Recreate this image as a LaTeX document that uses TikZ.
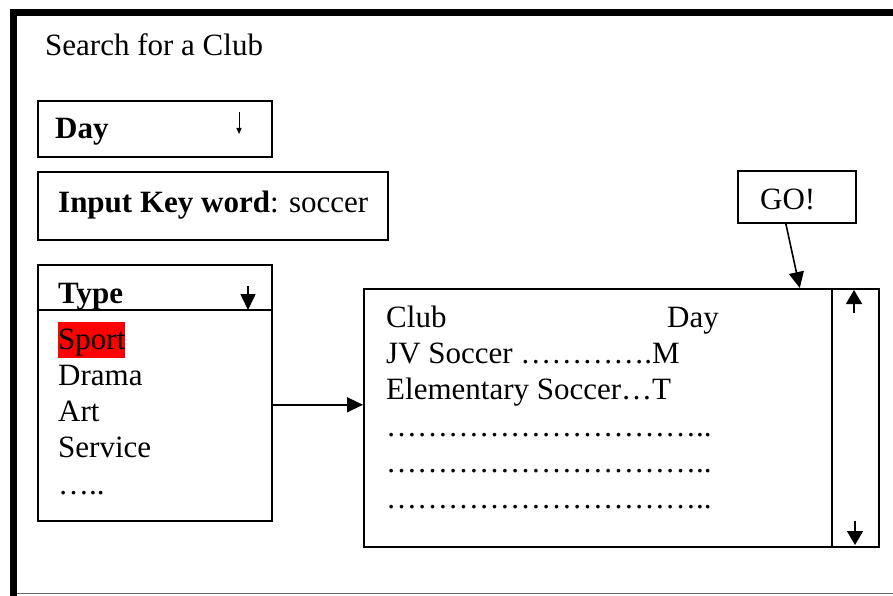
\documentclass[tikz,border=0pt]{standalone}
\usepackage{fontspec}
\setmainfont{Liberation Serif}
\usetikzlibrary{arrows.meta}
\newcommand{\ellch}{…}
\newcommand{\leaderrow}{\ellch\ellch\ellch\ellch\ellch\ellch\ellch\ellch\ellch\ellch..}

\begin{document}
\begin{tikzpicture}[x=1pt,y=-1pt,
  box/.style={draw, line width=1.6pt, inner sep=0pt, anchor=north west},
  txt/.style={anchor=base west, inner sep=0pt, font=\fontsize{31}{36}\selectfont},
  arr/.style={line width=1.6pt, -{Triangle[length=16pt,width=15pt]}},
  scrollarr/.style={line width=1.6pt, -{Triangle[length=14pt,width=16pt]}},
  thinarr/.style={line width=1pt, -{Triangle[length=6pt,width=5pt]}}]
\useasboundingbox (0,0) rectangle (893,596);

% page frame
\fill (10,9) rectangle (17,596);
\fill (10,9) rectangle (893,16);
\draw[black!60, line width=1.5pt] (17,593.5) -- (893,593.5);

% title
\node[txt] (title) at (45,56) {Search for a Club};

% day selector
\node[box, minimum width=234pt, minimum height=56pt] (daybox) at (37,100) {};
\node[txt] (daylbl) at (55,139) {\bfseries Day};
\coordinate (dayA) at (239,112);
\coordinate (dayB) at (239,134);
\draw[thinarr] (dayA) -- (dayB);

% keyword input
\node[box, minimum width=350pt, minimum height=68pt] (keybox) at (37,171) {};
\node[txt] (keylbl) at (58,212) {\textbf{Input Key word}: soccer};

% type list
\node[box, minimum width=234pt, minimum height=256pt] (type) at (37,264) {};
\draw[line width=1.6pt] ([yshift=-46pt]type.north west) -- ([yshift=-46pt]type.north east);
\node[txt] (typelbl) at (58,303) {\bfseries Type};
\coordinate (typeA) at (248,286);
\coordinate (typeB) at (248,310);
\draw[arr] (typeA) -- (typeB);
\node[txt, fill=red, text height=27pt, text depth=9pt] (sport) at (58,349) {Sport};
\node[txt] (drama) at (58,385) {Drama};
\node[txt] (art) at (58,421) {Art};
\node[txt] (service) at (58,457) {Service};
\node[txt] (more) at (58,494) {…..};

% results list
\node[box, minimum width=515pt, minimum height=258pt] (res) at (363,288) {};
\coordinate (bar) at (832,288);
\draw[line width=1.6pt] (bar) -- (bar |- res.south);
\coordinate (upA) at (854,313);
\coordinate (upB) at (854,290);
\draw[scrollarr] (upA) -- (upB);
\coordinate (dnA) at (855,521);
\coordinate (dnB) at (855,545);
\draw[scrollarr] (dnA) -- (dnB);
\node[txt] (hclub) at (386,327) {Club};
\node[txt] (hday) at (667,327) {Day};
\node[txt] (r1) at (386,363) {JV Soccer \ellch\ellch\ellch\ellch.M};
\node[txt] (r2) at (386,399) {Elementary Soccer\ellch T};
\node[txt] (r3) at (386,436) {\leaderrow};
\node[txt] (r4) at (386,472) {\leaderrow};
\node[txt] (r5) at (386,508) {\leaderrow};

% go button
\node[box, minimum width=118pt, minimum height=52pt] (go) at (737,170) {};
\node[txt] (golbl) at (760,209) {GO!};

% connectors
\draw[arr] ([yshift=-12pt]type.east) -- ([yshift=-12pt]type.east -| res.west);
\draw[arr] ([xshift=-11pt]go.south) -- ([xshift=178.5pt]res.north);
\end{tikzpicture}
\end{document}
